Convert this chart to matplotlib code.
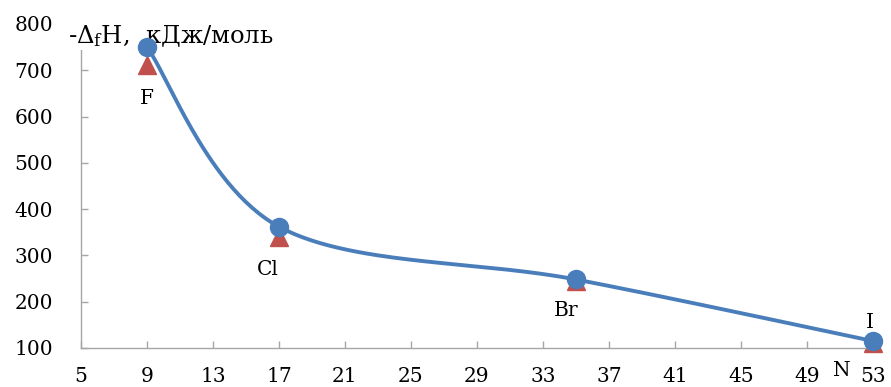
import numpy as np
import matplotlib
matplotlib.use("Agg")
import matplotlib.pyplot as plt

plt.rcParams['font.family'] = ['DejaVu Serif']
plt.rcParams['mathtext.fontset'] = 'dejavuserif'

# Atomic number of the halogen and enthalpy values
elements = ["F", "Cl", "Br", "I"]
atomic_n = [9, 17, 35, 53]
enthalpy_a = [750, 362, 248, 115]   # circles, smoothed line
enthalpy_b = [712, 340, 245, 110]   # triangles

x_ticks = [5, 9, 13, 17, 21, 25, 29, 33, 37, 41, 45, 49, 53]
y_ticks = [100, 200, 300, 400, 500, 600, 700, 800]

blue = "#4A7EBB"
red = "#C0504D"
axis_gray = "#A6A6A6"


def smooth_curve(xs, ys, sx, sy, n=60):
    """Cardinal (Catmull-Rom style) Bezier smoothing in screen-scaled units."""
    px = np.asarray(xs, float) * sx
    py = np.asarray(ys, float) * sy
    pts = np.column_stack([px, py])
    out = []
    m = len(pts)
    for i in range(m - 1):
        p0 = pts[i - 1] if i > 0 else pts[i]
        p1 = pts[i]
        p2 = pts[i + 1]
        p3 = pts[i + 2] if i + 2 < m else pts[i + 1]
        c1 = p1 + (p2 - p0) / 6.0
        c2 = p2 - (p3 - p1) / 6.0
        t = np.linspace(0, 1, n)[:, None]
        seg = ((1 - t) ** 3) * p1 + 3 * ((1 - t) ** 2) * t * c1 + 3 * (1 - t) * t ** 2 * c2 + t ** 3 * p2
        out.append(seg if i == 0 else seg[1:])
    curve = np.vstack(out)
    return curve[:, 0] / sx, curve[:, 1] / sy


fig = plt.figure(figsize=(8.91, 3.87), dpi=100)
ax = fig.add_axes([0.0909, 0.1008, 0.9798 - 0.0909, 0.938 - 0.1008])

ax.set_xlim(5, 53)
ax.set_ylim(100, 800)

cx, cy = smooth_curve(atomic_n, enthalpy_a, 16.5, 0.463)
ax.plot(cx, cy, color=blue, lw=2.8, zorder=3, clip_on=False, solid_capstyle='round')
ax.plot(atomic_n, enthalpy_b, linestyle='none', marker='^', markersize=13.5,
        color=red, zorder=2, clip_on=False)
ax.plot(atomic_n, enthalpy_a, linestyle='none', marker='o', markersize=13,
        color=blue, zorder=8, clip_on=False)

# Element labels
label_pos = [(9, 640), (16.3, 270), (34.4, 182), (52.8, 154)]
for name, (lx, ly) in zip(elements, label_pos):
    ax.text(lx, ly, name, ha='center', va='center', fontsize=14.5, zorder=5)

ax.set_xticks(x_ticks)
ax.set_yticks(y_ticks)
ax.tick_params(axis='both', direction='in', length=5, width=1, color=axis_gray,
               labelsize=14.5, labelcolor='black')
ax.tick_params(axis='y', pad=20)
ax.tick_params(axis='x', pad=14)

for side in ['top', 'right']:
    ax.spines[side].set_visible(False)
for side in ['left', 'bottom']:
    ax.spines[side].set_color(axis_gray)
    ax.spines[side].set_linewidth(1)

# Axis captions
ax.text(-0.016, 0.963, r"-Δ$_{\mathrm{f}}$H,  кДж/моль", transform=ax.transAxes,
        ha='left', va='center', fontsize=17.5, zorder=6,
        bbox=dict(facecolor='white', edgecolor='none', pad=0.5))
ax.text(51.1, 52, "N", ha='center', va='center', fontsize=14.5, clip_on=False,
        bbox=dict(facecolor='white', edgecolor='none', pad=0.2))

fig.savefig("out.png", dpi=100)
